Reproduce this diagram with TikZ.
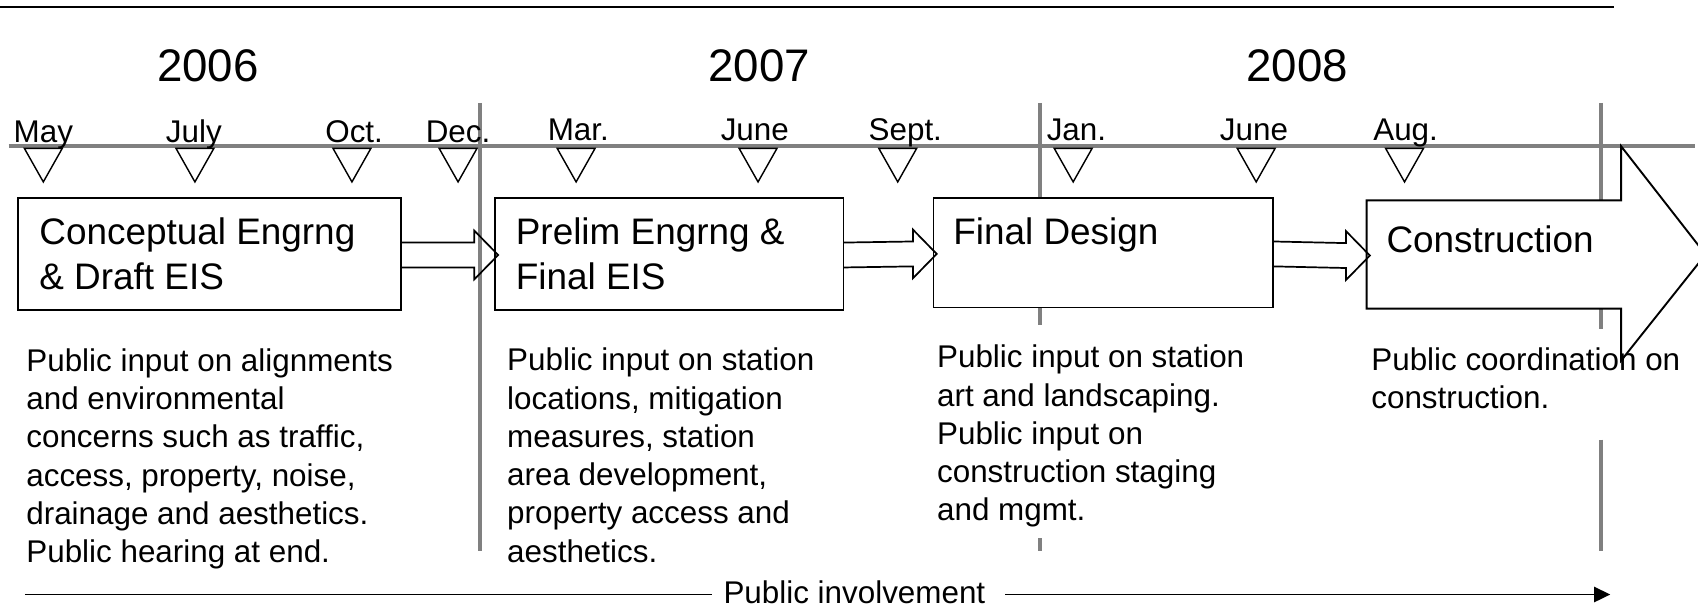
\documentclass[tikz,border=0pt]{standalone}
\usepackage{fontspec}
\setmainfont{Liberation Sans}
\usetikzlibrary{positioning, calc, arrows.meta}

\definecolor{rulegray}{RGB}{128,128,128}
\newcommand{\tlbody}{\fontsize{16.5pt}{20.1pt}\selectfont}
\newcommand{\tlbox}{\fontsize{19.4pt}{23.6pt}\selectfont}
\newcommand{\tlyear}{\fontsize{24pt}{28pt}\selectfont}

\begin{document}
\begin{tikzpicture}[x=0.02cm, y=-0.02cm,
    yearlabel/.style={anchor=base, inner sep=0pt, font=\tlyear},
    monthlabel/.style={anchor=base, inner sep=0pt, font=\tlbody},
    marker/.style={draw, line width=0.75pt, fill=white, line join=miter},
    gridline/.style={draw=rulegray, line width=2.1pt},
    phase/.style={draw, line width=1pt, fill=white, inner sep=0pt, outer sep=0pt, anchor=north west},
    phasetext/.style={anchor=base west, inner sep=0pt, font=\tlbox, align=left},
    note/.style={anchor=base west, inner sep=0pt, font=\tlbody, align=left},
    blockarrow/.style={draw, line width=0.9pt, line join=miter}]
  \useasboundingbox (0,0) rectangle (1568,561);
  \draw[line width=1pt] (0,6.5) -- (1490,6.5);

  % years
  \node[yearlabel] (y2006) at (192,75.5) {2006};
  \node[yearlabel] (y2007) at (701,75.5) {2007};
  \node[yearlabel] (y2008) at (1198,75.5) {2008};

  % gray time lines
  \draw[gridline] (8,135) -- (1565,135);
  \draw[gridline] (443,95) -- (443,509);
  \draw[gridline] (960,95) -- (960,300);
  \draw[gridline] (960,497) -- (960,509);
  \draw[gridline] (1478,95) -- (1478,304);
  \draw[gridline] (1478,406) -- (1478,509);

  % months
  \foreach \x/\m in {40/May, 179/July, 327/Oct., 423/Dec.}
    \node[monthlabel] (m\x) at (\x,132) {\m};
  \foreach \x/\m in {534/Mar., 697/June, 836/Sept., 994/Jan., 1158/June, 1298/Aug.}
    \node[monthlabel] (m\x) at (\x,130) {\m};
  \foreach \t in {40,180,325,423,532,700,829,991,1160,1297}
    \draw[marker] (\t-17.5,137) -- (\t+17.5,137) -- (\t,168) -- cycle;

  % phases
  \node[phase, minimum width=7.06cm, minimum height=2.06cm] (ce) at (17,183) {};
  \node[phase, minimum width=6.44cm, minimum height=2.06cm] (pe) at (457,183) {};
  \node[phase, minimum width=6.28cm, minimum height=2.02cm] (fd) at (862,183) {};
  \node[inner sep=0pt, outer sep=0pt, anchor=north west, minimum width=4.7cm, minimum height=2cm] (co) at (1262,185) {};
  \filldraw[fill=white, line width=1pt, line join=miter] (co.north west) -- (co.north east)
    -- ++(0,-50) -- ($(co.east)+(78,0)$) -- ($(co.south east)+(0,48)$)
    -- (co.south east) -- (co.south west) -- cycle;

  % base = last line
  \node[phasetext] (cet) at (36,267.6) {Conceptual Engrng\\\& Draft EIS};
  \node[phasetext] (pet) at (476,267.6) {Prelim Engrng \&\\Final EIS};
  \node[phasetext] (fdt) at (880,226) {Final Design};
  \node[phasetext] (cot) at (1280,233) {Construction};

  % arrows between phases
  \foreach \a/\b in {ce/pe, pe/fd, fd/co}
    \draw[blockarrow] ($(\a.east)+(0,-10.5)$) -- ($(\b.west)+(-19,-10.5)$)
      -- ($(\b.west)+(-19,-21.5)$) -- ($(\b.west)+(3,1)$)
      -- ($(\b.west)+(-19,23.5)$) -- ($(\b.west)+(-19,12.5)$)
      -- ($(\a.east)+(0,12.5)$);

  % public input notes
  \node[note] (cen) at (24,519.5) {Public input on alignments\\and environmental\\concerns such as traffic,\\access, property, noise,\\drainage and aesthetics.\\Public hearing at end.};
  \node[note] (pen) at (468,519) {Public input on station\\locations, mitigation\\measures, station\\area development,\\property access and\\aesthetics.};
  \node[note] (fdn) at (865,481) {Public input on station\\art and landscaping.\\Public input on\\construction staging\\and mgmt.};
  \node[note] (con) at (1266,377.5) {Public coordination on\\construction.};

  % public involvement
  \node[note, anchor=base] (pi) at (789,557) {Public involvement};
  \coordinate (pistart) at (23,549);
  \coordinate (piend) at (1487,549);
  \draw[line width=1pt] (pistart) -- ($(pi.base west)+(-10,-8)$);
  \draw[line width=1pt, -{Triangle[length=8.5pt, width=8pt]}] ($(pi.base east)+(18,-8)$) -- (piend);
\end{tikzpicture}
\end{document}
